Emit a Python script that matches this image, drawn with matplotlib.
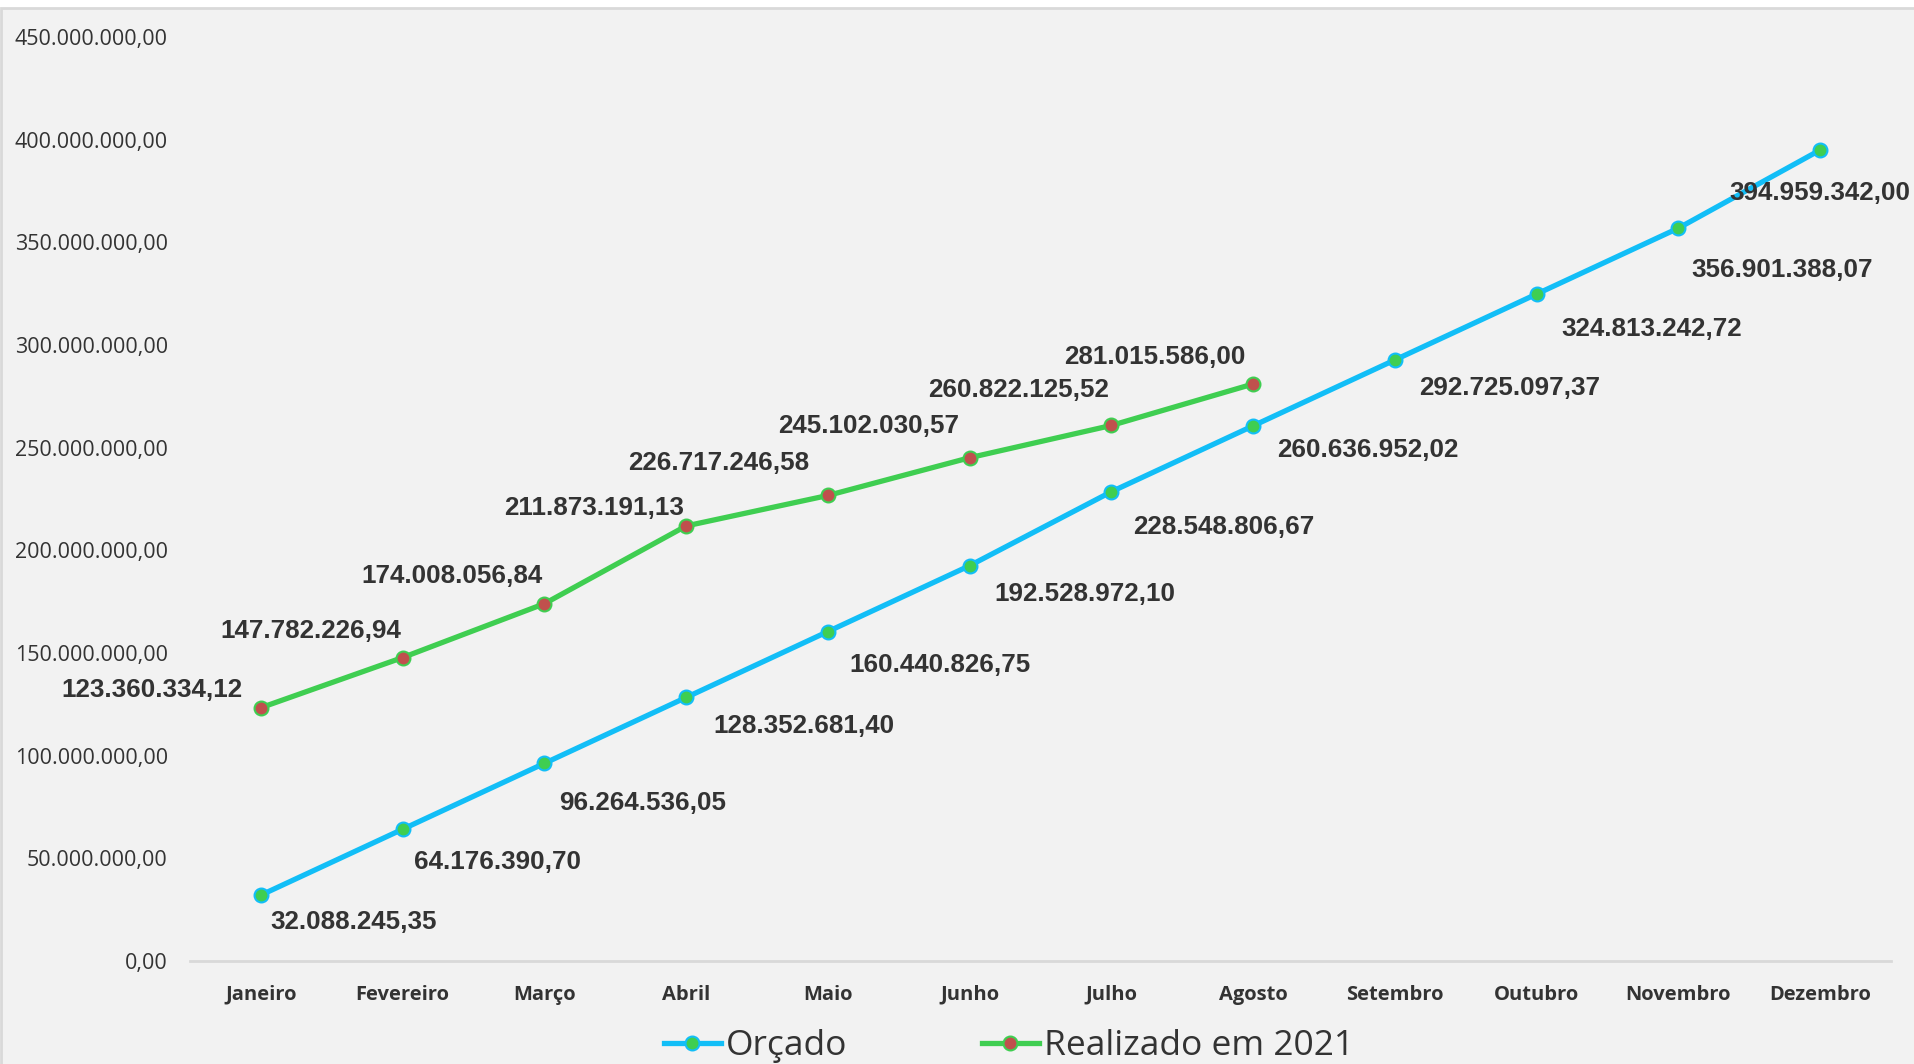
import matplotlib.pyplot as plt
from matplotlib.patches import Rectangle
from matplotlib.lines import Line2D

# data
meses = ['Janeiro', 'Fevereiro', 'Março', 'Abril', 'Maio', 'Junho', 'Julho',
         'Agosto', 'Setembro', 'Outubro', 'Novembro', 'Dezembro']
orcado = [32088245.35, 64176390.70, 96264536.05, 128352681.40, 160440826.75,
          192528972.10, 228548806.67, 260636952.02, 292725097.37, 324813242.72,
          356901388.07, 394959342.00]
realizado = [123360334.12, 147782226.94, 174008056.84, 211873191.13,
             226717246.58, 245102030.57, 260822125.52, 281015586.00]

# label offsets in pixels (manually placed in the original)
off_orc = [(93, -27), (95, -33), (98, -40), (118, -29), (112, -33), (115, -28),
           (112, -35), (115, -24), (115, -28), (115, -35), (104, -42), (0, -43)]
off_real = [(-109, 18), (-92, 27), (-92, 28), (-92, 18), (-109, 32), (-101, 32),
            (-93, 35), (-98, 27)]


def fmt_br(v):
    s = f'{v:,.2f}'
    return s.replace(',', 'X').replace('.', ',').replace('X', '.')


BLUE = '#12BEF7'
GREEN = '#3FCE51'
RED = '#C0504D'
TXT = '#333333'

fig = plt.figure(figsize=(19.15, 10.64), dpi=100)
fig.patch.set_facecolor('white')
fig.patches.append(Rectangle((0.0005, -0.01), 1.2, 1 - 8 / 1064 + 0.01,
                             transform=fig.transFigure, facecolor='#f2f2f2',
                             edgecolor='#d9d9d9', linewidth=2, zorder=-10))

ax = fig.add_axes([190 / 1915, 1 - 961 / 1064, (1891 - 190) / 1915, (961 - 37) / 1064])
ax.set_facecolor('none')

x = list(range(len(meses)))
ax.plot(x, orcado, color=BLUE, lw=3.8, marker='o', ms=10, mfc=GREEN, mec=BLUE, mew=1.5,
        solid_capstyle='round', zorder=3, clip_on=False)
ax.plot(x[:len(realizado)], realizado, color=GREEN, lw=3.8, marker='o', ms=10, mfc=RED,
        mec=GREEN, mew=1.5, solid_capstyle='round', zorder=3, clip_on=False)

for i, v in enumerate(orcado):
    ax.annotate(fmt_br(v), (i, v), xytext=off_orc[i], textcoords='offset pixels',
                ha='center', va='center', fontsize=18.7, fontweight='bold',
                family='Liberation Sans', color=TXT, zorder=5)
for i, v in enumerate(realizado):
    ax.annotate(fmt_br(v), (i, v), xytext=off_real[i], textcoords='offset pixels',
                ha='center', va='center', fontsize=18.7, fontweight='bold',
                family='Liberation Sans', color=TXT, zorder=5)

ax.set_xlim(-0.5, len(meses) - 0.5)
ax.set_ylim(0, 450000000)
ax.set_yticks(range(0, 450000001, 50000000))
ax.set_yticklabels([fmt_br(t) for t in range(0, 450000001, 50000000)],
                   fontsize=15.5, family='Open Sans', color=TXT)
ax.set_xticks(x)
ax.set_xticklabels(meses, fontsize=14.5, fontweight='bold', family='Open Sans', color=TXT)
ax.tick_params(axis='y', length=0, pad=16)
ax.tick_params(axis='x', length=0, pad=17)

for s in ['top', 'right', 'left']:
    ax.spines[s].set_visible(False)
ax.spines['bottom'].set_color('#d9d9d9')
ax.spines['bottom'].set_linewidth(2)

handles = [
    Line2D([], [], color=BLUE, lw=3.8, marker='o', ms=10, mfc=GREEN, mec=BLUE, mew=1.5),
    Line2D([], [], color=GREEN, lw=3.8, marker='o', ms=10, mfc=RED, mec=GREEN, mew=1.5),
]
fig.legend(handles, ['Orçado', 'Realizado em 2021'], loc='center',
           bbox_to_anchor=(1009 / 1915, 1 - 1046 / 1064), ncol=2, frameon=False,
           prop={'family': 'Open Sans', 'size': 25.5},
           labelcolor=TXT, handlelength=1.6, handletextpad=0.15, columnspacing=3.8,
           borderpad=0)

fig.savefig('out.png', dpi=100, facecolor=fig.get_facecolor())
